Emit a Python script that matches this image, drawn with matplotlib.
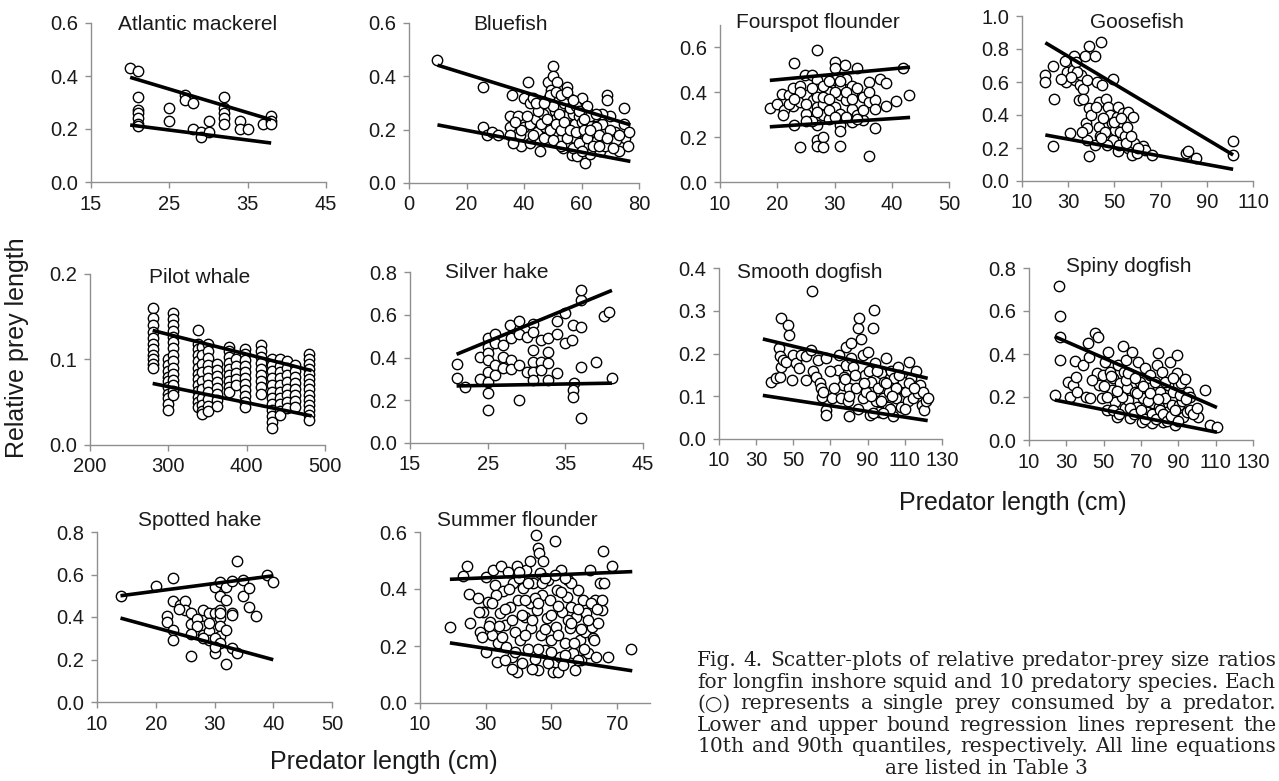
import numpy as np
import matplotlib.pyplot as plt

W, H = 1279, 781

# ---- data ----
mack_pts = [(20, .43), (21, .42), (21, .32), (21, .27), (21, .26), (21, .24), (21, .22), (21, .21),
            (25, .28), (25, .23), (27, .33), (27, .31), (28, .30), (28, .20), (29, .19), (29, .17),
            (30, .23), (30, .19), (32, .32), (32, .28), (32, .26), (32, .24), (32, .22), (34, .23),
            (34, .20), (35, .20), (37, .22), (38, .25), (38, .23), (38, .22)]
mack_line_x = [20, 38]
mack_lo = [0.215, 0.147]
mack_hi = [0.395, 0.235]

blue_pts = [(9.9, .46), (25.8, .36), (25.8, .21), (27, .18), (29, .19), (31, .18), (35.7, .33), (35, .25),
            (35, .21), (35, .18), (38, .25), (38.6, .18), (39, .14), (40, .32), (40, .21), (41.5, .38),
            (42, .30), (42, .22), (42, .15), (43, .32), (44, .24), (44.4, .19), (45.6, .12), (46.7, .26),
            (47.3, .21), (48, .31), (48.5, .38), (49.3, .35), (50, .44), (50.2, .40), (50.8, .27), (51, .24),
            (51.4, .19), (51.6, .38), (52.3, .32), (52.6, .16), (53, .29), (53.7, .13), (54.9, .36), (55, .25),
            (55.5, .20), (55.8, .32), (56, .15), (56.6, .105), (57.2, .26), (57.8, .22), (57.8, .17), (58.4, .10),
            (59, .30), (59.3, .25), (60, .32), (60.7, .19), (61, .14), (61.3, .075), (61.9, .27), (62.4, .22),
            (63, .11), (63.6, .19), (64.8, .25), (65.3, .16), (66.5, .12), (67, .22), (67.7, .15), (68.8, .33),
            (68.8, .31), (69.8, .25), (70.6, .15), (71.7, .19), (72.9, .12), (74.7, .28), (74.7, .22), (75.2, .17),
            (76.4, .19), (45, .27), (46, .22), (47, .17), (48, .24), (49, .20), (50, .29), (50, .16), (51, .22),
            (52, .26), (53, .20), (53, .14), (54, .30), (54, .23), (55, .17), (56, .28), (56, .20), (57, .13),
            (58, .29), (58, .19), (59, .15), (60, .23), (60, .12), (61, .20), (62, .17), (62, .29), (63, .25),
            (64, .14), (65, .21), (66, .18), (67, .26), (68, .14), (70, .20), (72, .16), (44, .30), (43, .18),
            (41, .25), (39, .20), (37, .23), (36, .15), (47, .30), (49, .33), (51, .34), (53, .33), (55, .34),
            (57, .31), (59, .27), (61, .24), (63, .20), (65, .26), (66, .14), (69, .17), (71, .13), (73, .18),
            (76, .14)]
blue_line_x = [9.9, 77]
blue_lo = [0.218, 0.081]
blue_hi = [0.442, 0.218]

four_pts = [(18.7, .332), (19.9, .347), (20.8, .394), (21.1, .32), (22, .386), (23, .53), (22.8, .42),
            (22.8, .338), (23, .254), (24, .158), (24, .43), (24, .357), (24.9, .475), (25, .305), (25, .386),
            (26, .479), (26.3, .364), (27, .59), (27, .453), (27, .416), (27, .379), (27, .335), (27, .254),
            (27, .187), (27, .16), (28, .202), (28, .158), (28, .35), (28, .298), (29, .40), (29, .283),
            (30, .534), (30, .507), (30, .453), (30, .335), (31, .43), (31, .386), (31, .305), (31, .254),
            (31, .229), (31, .16), (31.9, .52), (32, .46), (32, .364), (33, .43), (33, .394), (33, .327),
            (33, .268), (33.9, .508), (35, .379), (35, .276), (36, .118), (36, .445), (36, .357), (37, .239),
            (37, .364), (37, .327), (37.9, .46), (39, .44), (39, .338), (40.8, .36), (42, .51), (43, .386),
            (24, .40), (25, .35), (26, .42), (26, .27), (27, .31), (28, .43), (28, .38), (29, .45), (29, .32),
            (30, .40), (30, .29), (31, .45), (32, .40), (32, .29), (33, .37), (34, .30), (34, .42), (35, .32),
            (36, .40), (22, .35), (23, .37), (21, .30), (25, .27), (29, .37), (34, .28)]
four_line_x = [18.7, 43.2]
four_lo = [0.246, 0.288]
four_hi = [0.453, 0.512]

goose_pts = [(20.1, .64), (20.1, .60), (23.4, .70), (24, .495), (23.4, .21), (28.7, .73), (29.4, .66),
             (29.1, .60), (30.9, .29), (32.3, .76), (32, .67), (33, .61), (33.5, .72), (34.5, .49), (35.2, .58),
             (35.5, .64), (36.3, .56), (36.6, .50), (37.3, .76), (37.8, .35), (38, .32), (38, .25), (38, .61),
             (38.8, .82), (38.8, .44), (38.8, .15), (41.7, .76), (41.7, .22), (42.4, .60), (43.5, .33),
             (43.5, .48), (43.8, .27), (44.1, .84), (44.5, .58), (46.4, .495), (47.4, .45), (48.1, .40),
             (48.8, .35), (49.3, .62), (49.6, .25), (50.3, .31), (51, .39), (51.7, .45), (51.7, .18), (52.4, .30),
             (53.6, .41), (54.6, .27), (55.3, .33), (56, .42), (56, .20), (57.5, .16), (58.2, .39), (58.5, .23),
             (59.6, .17), (62.5, .21), (63.2, .19), (66.1, .16), (81.2, .17), (81.9, .18), (85.5, .14),
             (101.4, .24), (101.4, .16), (40, .40), (42, .45), (45, .38), (46, .30), (47, .22), (50, .36),
             (52, .22), (53, .38), (55, .23), (57, .27), (60, .20), (44, .26), (36, .30), (34, .66), (31, .63),
             (27, .62)]
goose_line_x = [20.1, 101.4]
goose_lo = [0.279, 0.071]
goose_hi = [0.838, 0.158]

pilot_cols = [280, 300, 306, 338, 343, 350, 362, 378, 386, 398, 418, 432, 442, 452, 462, 480]
pilot_vals = [
    [.160, .148, .140, .132, .125, .118, .112, .105, .100, .095, .090],
    [.100, .093, .087, .080, .075, .068, .060, .055, .048, .041],
    [.154, .147, .140, .133, .126, .120, .113, .105, .098, .090, .083, .076, .070, .063, .058],
    [.135, .118, .112, .105, .098, .090, .083, .077, .070, .063, .056, .050, .045],
    [.115, .105, .095, .085, .075, .065, .055, .047, .040, .036],
    [.118, .110, .102, .094, .086, .078, .070, .062, .054, .046, .040],
    [.095, .088, .081, .074, .067, .060, .053, .046],
    [.115, .110, .103, .096, .089, .082, .075, .068, .062],
    [.100, .092, .084, .077, .070],
    [.112, .106, .099, .092, .085, .078, .071, .064, .057, .050, .044],
    [.117, .110, .103, .096, .089, .082, .075, .068, .060],
    [.100, .093, .086, .078, .070, .062, .055, .048, .041, .034, .027, .020],
    [.100, .092, .085, .078, .070, .062, .055, .048, .040, .035],
    [.098, .090, .082, .074, .066, .058, .050, .043],
    [.093, .086, .079, .072, .065, .058, .051, .045],
    [.107, .101, .095, .089, .083, .077, .071, .065, .059, .053, .047, .041, .035, .029],
]
pilot_line_x = [280, 483]
pilot_lo = [0.072, 0.034]
pilot_hi = [0.134, 0.087]

silver_pts = [(21, .368), (21, .306), (22.1, .264), (24, .404), (24, .30), (25, .489), (25, .45), (25, .419),
              (25, .388), (25, .334), (25, .287), (25, .233), (25, .155), (25.9, .512), (25.9, .466),
              (25.9, .365), (25.9, .318), (27, .458), (27, .404), (27, .349), (27.9, .551), (28, .489),
              (28, .388), (28, .346), (29, .57), (29, .512), (29, .365), (29, .202), (30, .497), (30, .334),
              (30.9, .559), (30.9, .517), (30.9, .435), (30.9, .38), (30.9, .334), (30.9, .295), (31.9, .481),
              (31.9, .38), (31.9, .342), (32.8, .489), (32.8, .427), (32.8, .373), (32.8, .295), (33.9, .57),
              (33.9, .512), (33.9, .326), (35, .606), (34.9, .466), (36.1, .28), (35.9, .481), (36, .551),
              (36, .248), (36, .217), (37, .668), (37, .714), (37, .543), (37, .357), (37, .116), (38.9, .38),
              (40, .595), (40.6, .613), (41, .303)]
silver_line_x = [21, 41]
silver_lo = [0.267, 0.28]
silver_hi = [0.415, 0.714]

smooth_pts = [(38.1, .134), (40.8, .142), (42.9, .146), (43.5, .283), (42.2, .212), (42.6, .193),
              (43.5, .169), (44.4, .185), (46.2, .181), (47.1, .266), (47.6, .243), (49.4, .138), (49.8, .197),
              (51.6, .177), (53.3, .165), (54.2, .197), (56.9, .138), (56.9, .193), (59.6, .208), (60.2, .346),
              (60.5, .158), (62.3, .146), (63.2, .185), (64.1, .130), (65, .119), (65.5, .099), (65.9, .111),
              (67.7, .189), (67.7, .068), (67.7, .057), (70.9, .096), (74, .162), (74.8, .197), (75.7, .096),
              (76.6, .127), (77.5, .146), (78.4, .216), (78.4, .173), (79.3, .088), (80.2, .053), (80.2, .119),
              (81.1, .224), (81.1, .189), (82, .169), (83.8, .119), (84.7, .259), (85.6, .282), (86.5, .235),
              (87.4, .197), (87.4, .096), (88.3, .150), (89.2, .111), (90.1, .204), (90.6, .158), (91, .057),
              (91.9, .134), (92.8, .259), (93.6, .301), (94.2, .177), (94.5, .088), (95.4, .119), (96.3, .064),
              (97.2, .154), (98.1, .096), (99, .134), (99.9, .189), (100.8, .076), (101.7, .111), (102.6, .158),
              (103.5, .053), (104.4, .142), (105.3, .096), (106.2, .169), (107.1, .119), (108, .076),
              (108.9, .134), (110.7, .111), (111.6, .088), (112.1, .181), (113.3, .142), (114.3, .096),
              (116, .158), (116.9, .107), (118, .127), (119, .080), (120, .111), (120.5, .068), (121.4, .088),
              (122.3, .096), (85, .07), (88, .13), (92, .10), (95, .16), (97, .09), (100, .13), (102, .07),
              (105, .12), (107, .15), (110, .07), (112, .13), (115, .12), (83, .15), (80, .10), (78, .14),
              (72, .12), (70, .16), (93, .06), (98, .06), (103, .10)]
smooth_line_x = [33.6, 122.3]
smooth_lo = [0.102, 0.043]
smooth_hi = [0.234, 0.142]

spiny_pts = [(26.1, .714), (26.5, .579), (26.5, .481), (26.5, .373), (23.8, .21), (31, .272), (32.2, .202),
             (33.6, .256), (34.5, .368), (35.4, .295), (35.8, .225), (38.7, .349), (40.8, .202), (41.7, .45),
             (42.2, .388), (42.6, .194), (45.3, .497), (46.2, .311), (47.1, .481), (47.6, .256), (48.9, .194),
             (49.8, .303), (50.6, .365), (51.6, .14), (52.4, .411), (53.3, .318), (54.2, .233), (55.1, .287),
             (56, .179), (56.9, .109), (57.8, .349), (58.7, .264), (59.6, .21), (60.5, .435), (60.9, .318),
             (61.4, .148), (62, .373), (62.3, .241), (63.2, .186), (64.1, .101), (65, .411), (65.9, .295),
             (66.8, .225), (67.7, .155), (68.6, .365), (69.5, .272), (70.4, .085), (71.3, .194), (72.2, .334),
             (73, .132), (73.9, .241), (74.8, .303), (75.7, .078), (76.6, .171), (77.5, .272), (78.4, .349),
             (79.3, .404), (79.9, .155), (80.2, .225), (81.1, .318), (82, .085), (82.9, .194), (83.8, .132),
             (84.7, .256), (85.6, .365), (86.5, .163), (87.4, .225), (88.3, .07), (89.2, .311), (89.5, .396),
             (90.6, .163), (91.3, .264), (92.4, .109), (93.1, .21), (93.6, .284), (94.5, .132), (95.4, .225),
             (96.3, .14), (100.8, .109), (104.4, .233), (107.1, .07), (110.7, .062), (55, .14), (58, .12),
             (60, .20), (62, .28), (64, .15), (66, .12), (68, .22), (70, .14), (72, .10), (74, .18), (76, .12),
             (78, .10), (80, .14), (82, .12), (84, .09), (86, .11), (88, .14), (90, .09), (92, .18), (96, .20),
             (98, .12), (44, .28), (50, .25), (52, .20), (54, .30), (57, .23), (63, .31), (67, .29), (71, .25),
             (75, .22), (79, .19), (83, .27), (87, .29), (91, .21), (94, .19), (100, .15)]
spiny_line_x = [23.8, 110.7]
spiny_lo = [0.186, 0.036]
spiny_hi = [0.481, 0.151]

spotted_pts = [(14, .50), (20, .544), (22.9, .584), (21.9, .406), (21.9, .375), (22.9, .474), (22.9, .34),
               (22.9, .293), (24.1, .458), (25, .474), (25, .435), (26, .419), (26, .369), (26, .218),
               (27, .391), (27, .328), (28, .435), (28, .356), (28.1, .317), (29, .419), (29, .333), (29, .293),
               (30, .541), (30, .419), (30, .231), (31, .563), (31, .497), (31, .435), (31, .395), (31, .356),
               (31, .309), (32, .541), (32, .478), (32, .34), (32, .18), (33, .568), (33, .419), (33, .254),
               (33.9, .662), (33.9, .231), (34.9, .576), (34.9, .497), (35.9, .537), (35.9, .447), (37, .406),
               (38.9, .599), (40, .563), (27, .36), (29, .37), (31, .42), (30, .30), (28, .30), (26, .32),
               (24, .44), (33, .41), (31, .28), (30, .26)]
spotted_line_x = [14, 40]
spotted_lo = [0.395, 0.199]
spotted_hi = [0.50, 0.594]

summer_pts = [(19.1, .265), (24.2, .479), (23.2, .446), (24.9, .383), (25.1, .282), (27.6, .367), (28.2, .25),
              (29.2, .32), (30.2, .441), (30.7, .356), (31.2, .285), (31.8, .238), (32.3, .467), (32.8, .414),
              (33.3, .144), (33.8, .209), (34.3, .315), (34.8, .479), (35.3, .394), (35.8, .273), (36.3, .197),
              (36.8, .461), (37.4, .338), (37.9, .162), (38.4, .42), (38.9, .25), (39.4, .109), (39.6, .479),
              (39.9, .361), (40.4, .221), (40.9, .139), (41.4, .402), (41.9, .303), (42.4, .467), (42.9, .191),
              (43.4, .497), (43.6, .35), (43.9, .262), (44.4, .42), (44.9, .156), (45.3, .59), (45.5, .326),
              (46, .544), (46, .115), (46.3, .526), (46.5, .455), (46.7, .238), (47, .379), (47.5, .497),
              (48, .185), (48.5, .297), (49, .432), (49.5, .361), (50, .221), (50.5, .109), (51, .567),
              (51.3, .268), (51.7, .397), (52, .109), (52.6, .162), (52.8, .467), (53.1, .32), (53.6, .133),
              (54.1, .209), (54.6, .373), (55.1, .432), (55.6, .262), (56.1, .338), (56.6, .174), (57.1, .115),
              (57.6, .303), (58.1, .397), (58.6, .221), (59.1, .15), (59.6, .361), (60.1, .25), (60.6, .315),
              (61.1, .174), (61.7, .467), (62.2, .268), (62.7, .227), (63.2, .361), (63.7, .162), (64.2, .279),
              (64.7, .42), (65.3, .326), (65.5, .361), (65.7, .535), (65.9, .42), (67.2, .162), (68.3, .481),
              (74.3, .188), (33, .38), (35, .23), (36, .33), (37, .40), (38, .29), (39, .18), (40, .44),
              (41, .31), (42, .24), (43, .42), (44, .29), (45, .37), (46, .19), (47, .42), (48, .26), (49, .14),
              (50, .31), (51, .45), (52, .24), (53, .39), (54, .17), (55, .29), (56, .42), (57, .21), (58, .33),
              (59, .26), (60, .19), (61, .29), (62, .35), (63, .22), (64, .33), (36, .15), (38, .12), (40, .46),
              (42, .36), (44, .12), (46, .35), (48, .44), (50, .18), (52, .34), (54, .44), (56, .28), (58, .15),
              (34, .27), (32, .35), (30, .18), (31, .27), (29, .23), (28, .32)]
summer_line_x = [19.1, 74.6]
summer_lo = [0.211, 0.113]
summer_hi = [0.434, 0.461]

pilot_pts = [(c, v) for c, col in zip(pilot_cols, pilot_vals) for v in col]

caption_lines = [
    "Fig. 4. Scatter-plots of relative predator-prey size ratios",
    "for longfin inshore squid and 10 predatory species. Each",
    "(\u25cb) represents a single prey consumed by a predator.",
    "Lower and upper bound regression lines represent the",
    "10th and 90th quantiles, respectively. All line equations",
    "are listed in Table 3",
]

# ---- layout: (title, pts, line_x, lo, hi, xlim, xticks, ylim, yticks, box px l,t,r,b, title px) ----
panels = [
    ("Atlantic mackerel", mack_pts, mack_line_x, mack_lo, mack_hi, (15, 45), [15, 25, 35, 45], (0, .6),
     [0, .2, .4, .6], (91, 23, 326, 182), (198, 25)),
    ("Bluefish", blue_pts, blue_line_x, blue_lo, blue_hi, (0, 80), [0, 20, 40, 60, 80], (0, .6),
     [0, .2, .4, .6], (409, 23, 639, 183), (510, 25)),
    ("Fourspot flounder", four_pts, four_line_x, four_lo, four_hi, (10, 50), [10, 20, 30, 40, 50], (0, .7),
     [0, .2, .4, .6], (720, 25, 949, 182), (818, 22)),
    ("Goosefish", goose_pts, goose_line_x, goose_lo, goose_hi, (10, 110), [10, 30, 50, 70, 90, 110], (0, 1),
     [0, .2, .4, .6, .8, 1], (1022, 16, 1253, 181), (1137, 22)),
    ("Pilot whale", pilot_pts, pilot_line_x, pilot_lo, pilot_hi, (200, 500), [200, 300, 400, 500], (0, .2),
     [0, .1, .2], (90, 274, 325, 445), (200, 278)),
    ("Silver hake", silver_pts, silver_line_x, silver_lo, silver_hi, (15, 45), [15, 25, 35, 45], (0, .8),
     [0, .2, .4, .6, .8], (410, 272, 643, 443), (497, 273)),
    ("Smooth dogfish", smooth_pts, smooth_line_x, smooth_lo, smooth_hi, (10, 130),
     [10, 30, 50, 70, 90, 110, 130], (0, .4), [0, .1, .2, .3, .4], (719, 268, 942, 439), (810, 272)),
    ("Spiny dogfish", spiny_pts, spiny_line_x, spiny_lo, spiny_hi, (10, 130),
     [10, 30, 50, 70, 90, 110, 130], (0, .8), [0, .2, .4, .6, .8], (1029, 268, 1253, 440), (1129, 267)),
    ("Spotted hake", spotted_pts, spotted_line_x, spotted_lo, spotted_hi, (10, 50), [10, 20, 30, 40, 50],
     (0, .8), [0, .2, .4, .6, .8], (97, 532, 332, 702), (200, 521)),
    ("Summer flounder", summer_pts, summer_line_x, summer_lo, summer_hi, (10, 80), [10, 30, 50, 70],
     (0, .6), [0, .2, .4, .6], (420, 532, 650, 703), (517, 521)),
]

plt.rcParams['font.family'] = ['Liberation Sans', 'DejaVu Sans']
fig = plt.figure(figsize=(W / 100, H / 100), dpi=100)
grey = '#8f8f8f'
ink = '#1a1a1a'

for (title, pts, lx, lo, hi, xlim, xt, ylim, yt, box, tpos) in panels:
    l, t, r, b = box
    ax = fig.add_axes([l / W, 1 - b / H, (r - l) / W, (b - t) / H])
    xs, ys = zip(*pts)
    ax.scatter(xs, ys, s=56, facecolor='white', edgecolor='black', linewidth=1.0, zorder=3, clip_on=False)
    ax.plot(lx, lo, color='black', lw=2.6, zorder=4, solid_capstyle='butt', clip_on=False)
    ax.plot(lx, hi, color='black', lw=2.6, zorder=4, solid_capstyle='butt', clip_on=False)
    ax.set_xlim(xlim)
    ax.set_ylim(ylim)
    ax.set_xticks(xt)
    ax.set_yticks(yt)
    ax.set_yticklabels([f"{v:.1f}" for v in yt])
    for s in ['top', 'right']:
        ax.spines[s].set_visible(False)
    for s in ['left', 'bottom']:
        ax.spines[s].set_color(grey)
        ax.spines[s].set_linewidth(1.0)
    ax.tick_params(direction='out', length=4, width=1, color=grey, labelsize=14.5, labelcolor=ink, pad=5)
    ax.patch.set_alpha(0)
    fig.text(tpos[0] / W, 1 - tpos[1] / H, title, ha='center', va='center', fontsize=15, color=ink)

fig.text(17 / W, 1 - 348 / H, "Relative prey length", rotation=90, ha='center', va='center',
         fontsize=18, color=ink)
fig.text(1013 / W, 1 - 503 / H, "Predator length (cm)", ha='center', va='center', fontsize=18, color=ink)
fig.text(384 / W, 1 - 762 / H, "Predator length (cm)", ha='center', va='center', fontsize=18, color=ink)

# caption, justified into a column on the lower right
col_l, col_r = 697, 1276
cap_font = dict(fontsize=14.5, family=['DejaVu Serif', 'DejaVu Sans'], color='#222222', va='center')
renderer = fig.canvas.get_renderer()
for i, line in enumerate(caption_lines):
    y = 1 - (661 + i * 21.4) / H
    if i == len(caption_lines) - 1:
        fig.text((col_l + col_r) / 2 / W, y, line, ha='center', **cap_font)
        continue
    words = line.split(' ')
    widths = []
    for w in words:
        tt = fig.text(0, 0, w, **cap_font)
        widths.append(tt.get_window_extent(renderer).width)
        tt.remove()
    gap = (col_r - col_l - sum(widths)) / (len(words) - 1)
    x = col_l
    for w, wd in zip(words, widths):
        fig.text(x / W, y, w, ha='left', **cap_font)
        x += wd + gap

fig.savefig('out.png', dpi=100)
